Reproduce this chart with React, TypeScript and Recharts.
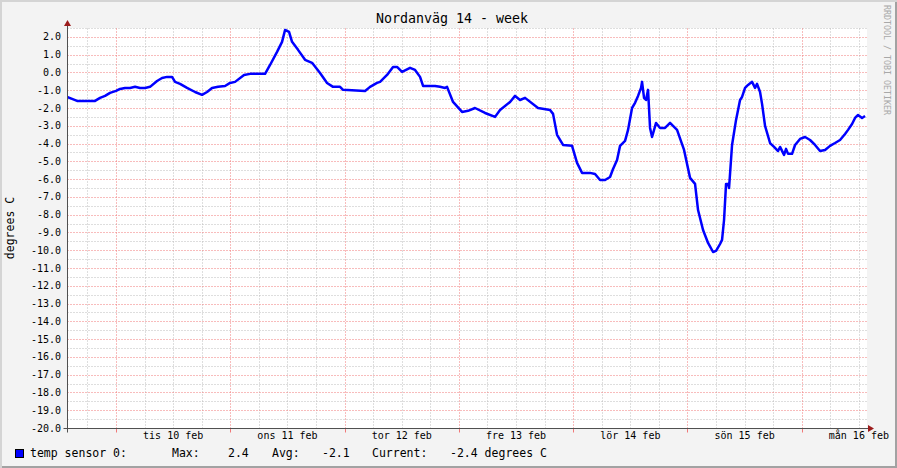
import React from "react";
import { LineChart, Line, XAxis, YAxis, CartesianGrid, ReferenceLine, ReferenceDot } from "recharts";

const MONO = "'DejaVu Sans Mono', monospace";

// time in hours relative to midnight tis 10 feb
const X_MIN = -10.3;
const X_MAX = 157.7;

const hours = [
  -10.29, -9.24, -8.19, -6.51, -4.41, -3.36, -2.31, -1.26, 0, 0.84, 1.89, 2.94, 3.99, 5.04, 6.09, 7.14,
  8.61, 9.66, 10.71, 11.76, 12.39, 13.44, 14.91, 16.59, 18.06, 19.11, 20.16, 21.42, 22.89, 23.94, 24.99,
  26.88, 28.14, 31.29, 32.34, 33.81, 34.86, 35.49, 36.33, 36.96, 38.22, 39.69, 41.16, 42.84, 44.31, 45.57,
  47.04, 47.67, 52.29, 53.34, 54.81, 55.44, 56.91, 58.17, 59.01, 60.06, 61.74, 62.79, 63.84, 64.47, 66.99,
  68.04, 69.09, 69.51, 70.77, 72.66, 73.92, 75.39, 77.49, 79.59, 80.64, 82.74, 83.79, 84.84, 85.89, 88.62,
  91.14, 91.77, 92.61, 93.87, 95.76, 96.81, 97.86, 99.54, 100.59, 101.64, 102.69, 103.74, 104.37, 105.21,
  105.84, 106.89, 107.52, 108.36, 108.99, 109.62, 110.25, 110.46, 110.88, 111.3, 111.72, 112.14, 112.56,
  113.4, 114.24, 115.29, 116.34, 117.81, 119.28, 120.54, 121.59, 122.22, 123.27, 124.32, 125.37, 126.0,
  126.84, 127.26, 127.68, 128.1, 128.52, 128.73, 129.36, 130.2, 131.04, 131.46, 132.09, 132.72, 133.56,
  134.19, 134.61, 135.24, 135.66, 136.29, 137.34, 138.18, 139.02, 139.44, 140.28, 140.7, 141.12, 141.96,
  142.59, 143.64, 144.69, 145.74, 146.79, 147.84, 148.89, 149.94, 150.99, 152.04, 153.09, 153.72, 154.56,
  155.19, 155.82, 156.66, 157.29,
];

const temps = [
  -1.38, -1.49, -1.6, -1.6, -1.6, -1.43, -1.32, -1.15, -1.04, -0.93, -0.87, -0.87, -0.81, -0.87, -0.87, -0.81,
  -0.48, -0.31, -0.25, -0.25, -0.53, -0.64, -0.87, -1.1, -1.26, -1.1, -0.87, -0.81, -0.76, -0.59, -0.53,
  -0.14, -0.08, -0.08, 0.42, 1.16, 1.72, 2.39, 2.28, 1.72, 1.27, 0.71, 0.54, -0.03, -0.59, -0.81,
  -0.81, -0.98, -1.04, -0.81, -0.59, -0.53, -0.14, 0.31, 0.31, 0.03, 0.26, 0.14, -0.25, -0.76, -0.76,
  -0.81, -0.87, -0.81, -1.66, -2.22, -2.16, -2.0, -2.28, -2.5, -2.11, -1.66, -1.32, -1.55, -1.43, -2.0,
  -2.11, -2.33, -3.51, -4.08, -4.13, -5.09, -5.65, -5.65, -5.71, -6.05, -6.05, -5.88, -5.43, -4.92,
  -4.13, -3.85, -3.23, -2.0, -1.71, -1.32, -0.87, -0.53, -1.43, -1.55, -0.98, -3.12, -3.63,
  -2.84, -3.12, -3.12, -2.84, -3.23, -4.36, -5.93, -6.27, -7.74, -8.86, -9.59, -10.1, -10.04,
  -9.65, -9.42, -8.3, -6.27, -6.27, -6.5, -4.08, -2.67, -1.55, -1.38, -0.87, -0.7, -0.53,
  -0.87, -0.64, -1.1, -1.77, -3.01, -3.97, -4.19, -4.42, -4.19, -4.64, -4.3, -4.58, -4.58,
  -4.08, -3.74, -3.63, -3.8, -4.08, -4.42, -4.36, -4.13, -3.97, -3.8, -3.46, -3.23, -2.9,
  -2.56, -2.39, -2.56, -2.45,
];

const dayLabels = ["tis 10 feb", "ons 11 feb", "tor 12 feb", "fre 13 feb", "lör 14 feb", "sön 15 feb", "mån 16 feb"];
const labelHours = [12, 36, 60, 84, 108, 132, 156];
const midnights = [0, 24, 48, 72, 96, 120, 144];

const data = hours.map((h, i) => ({ h, t: temps[i] }));

// grid positions
const minorX: number[] = [];
for (let h = -6; h <= 156; h += 6) if (h % 24 !== 0) minorX.push(h);
const yTicks: number[] = [];
for (let v = -20; v <= 2; v++) yTicks.push(v);
const minorY: number[] = [];
for (let v = -19.5; v <= 2.5; v += 1) minorY.push(v);
const majorY = yTicks.filter((v) => v > -20);

const AXIS = "#505050";
const ARROW = "#9c1c1c";
const MINOR = "#bdbdbd";
const MAJOR = "#f07878";

// snap reference lines to whole pixels so the 1px grid stays sharp
const snap = (n: number) => Math.round(n) + 0.5;
const crispLine = (p: any) => (
  <line x1={snap(p.x1)} y1={snap(p.y1)} x2={snap(p.x2)} y2={snap(p.y2)} stroke={p.stroke} strokeWidth={1} />
);
const dottedLine = (p: any) => (
  <line
    x1={snap(p.x1)}
    y1={snap(p.y1)}
    x2={snap(p.x2)}
    y2={snap(p.y2)}
    stroke={p.stroke}
    strokeWidth={1}
    strokeDasharray="1 2"
  />
);

export default function App() {
  return (
    <div
      style={{
        position: "absolute",
        left: 0,
        top: 0,
        width: 897,
        height: 468,
        background: "#f3f3f3",
        boxShadow: "inset 2px 2px 0 #d4d4d4, inset -2px -2px 0 #a2a2a2",
      }}
    >
      <LineChart width={897} height={468} data={data} margin={{ top: 28, right: 30, bottom: 20, left: 0 }}>
        <CartesianGrid fill="#ffffff" horizontal={false} vertical={false} />
        {minorX.map((h) => (
          <ReferenceLine key={"mx" + h} x={h} stroke={MINOR} shape={dottedLine} />
        ))}
        {minorY.map((v) => (
          <ReferenceLine key={"my" + v} y={v} stroke={MINOR} shape={dottedLine} />
        ))}
        {majorY.map((v) => (
          <ReferenceLine key={"My" + v} y={v} stroke={MAJOR} shape={dottedLine} />
        ))}
        {midnights.map((h) => (
          <ReferenceLine key={"Mx" + h} x={h} stroke={MAJOR} shape={dottedLine} />
        ))}
        {midnights.map((h) => (
          <ReferenceLine
            key={"tk" + h}
            segment={[{ x: h, y: -20 }, { x: h, y: -20.22 }]}
            stroke={MAJOR}
            ifOverflow="visible"
            shape={crispLine}
          />
        ))}
        <XAxis
          type="number"
          dataKey="h"
          domain={[X_MIN, X_MAX]}
          ticks={labelHours}
          interval={0}
          tickFormatter={(v: number) => dayLabels[labelHours.indexOf(v)]}
          axisLine={false}
          tickLine={false}
          tickSize={0}
          tickMargin={4}
          height={20}
          allowDataOverflow
          tick={{ fill: "#000", fontSize: 10, fontFamily: MONO }}
        />
        <YAxis
          type="number"
          domain={[-20, 2.5]}
          ticks={yTicks}
          interval={0}
          tickFormatter={(v: number) => v.toFixed(1)}
          width={67}
          axisLine={false}
          tickLine={false}
          tickSize={0}
          tickMargin={6}
          allowDataOverflow
          tick={{ fill: "#000", fontSize: 10, fontFamily: MONO }}
        />
        <Line
          type="linear"
          dataKey="t"
          stroke="#0000ff"
          strokeWidth={2.5}
          strokeLinejoin="round"
          dot={false}
          isAnimationActive={false}
        />
        <ReferenceLine
          segment={[{ x: X_MIN - 0.84, y: -20 }, { x: X_MAX + 0.9, y: -20 }]}
          stroke={AXIS}
          ifOverflow="visible"
          shape={crispLine}
        />
        <ReferenceLine
          segment={[{ x: X_MIN, y: -20.22 }, { x: X_MIN, y: 2.82 }]}
          stroke={AXIS}
          ifOverflow="visible"
          shape={crispLine}
        />
        <ReferenceDot
          x={X_MIN}
          y={2.5}
          ifOverflow="visible"
          shape={(p: any) => (
            <path d={`M${snap(p.cx) - 3.5},${p.cy - 2} L${snap(p.cx)},${p.cy - 8} L${snap(p.cx) + 3.5},${p.cy - 2} Z`} fill={ARROW} />
          )}
        />
        <ReferenceDot
          x={X_MAX}
          y={-20}
          ifOverflow="visible"
          shape={(p: any) => (
            <path d={`M${p.cx + 1},${snap(p.cy) - 3.5} L${p.cx + 7},${snap(p.cy)} L${p.cx + 1},${snap(p.cy) + 3.5} Z`} fill={ARROW} />
          )}
        />
      </LineChart>
      <svg
        width={897}
        height={468}
        style={{ position: "absolute", left: 0, top: 0, pointerEvents: "none" }}
        fontFamily={MONO}
      >
        <text x={452} y={23} textAnchor="middle" fontSize={13.3} fill="#000">
          Nordanväg 14 - week
        </text>
        <text x={884} y={5} fontSize={8.3} fill="#a8a8a8" transform="rotate(90 884 5)">
          RRDTOOL / TOBI OETIKER
        </text>
        <text x={-228} y={14} textAnchor="middle" fontSize={11.5} fill="#000" transform="rotate(-90)">
          degrees C
        </text>
        <rect x={15.5} y={449.5} width={8} height={8} fill="#0000ff" stroke="#000" />
        <g fontSize={11.5} fill="#000">
          <text x={30} y={457}>temp sensor 0:</text>
          <text x={172} y={457}>Max:</text>
          <text x={228} y={457}>2.4</text>
          <text x={272} y={457}>Avg:</text>
          <text x={322} y={457}>-2.1</text>
          <text x={372} y={457}>Current:</text>
          <text x={450} y={457}>-2.4 degrees C</text>
        </g>
      </svg>
    </div>
  );
}
